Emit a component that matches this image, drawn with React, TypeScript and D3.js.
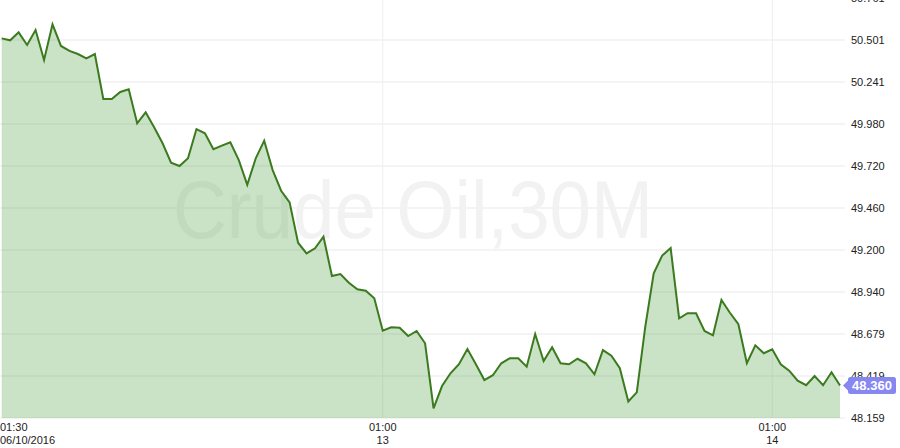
import { useEffect, useRef } from "react";
import * as d3 from "d3";

// 30-minute closes
const closes: number[] = [
  50.511, 50.499, 50.548, 50.47, 50.563, 50.377, 50.598, 50.464, 50.433, 50.414,
  50.387, 50.414, 50.135, 50.135, 50.179, 50.195, 49.985, 50.053, 49.96, 49.861,
  49.741, 49.72, 49.768, 49.949, 49.923, 49.824, 49.846, 49.867, 49.757, 49.603,
  49.768, 49.877, 49.695, 49.567, 49.495, 49.245, 49.179, 49.21, 49.282, 49.039,
  49.051, 48.997, 48.956, 48.948, 48.901, 48.7, 48.721, 48.718, 48.667, 48.698,
  48.622, 48.219, 48.357, 48.436, 48.492, 48.586, 48.492, 48.394, 48.424, 48.498,
  48.529, 48.529, 48.477, 48.679, 48.512, 48.597, 48.498, 48.492, 48.526, 48.498,
  48.43, 48.58, 48.545, 48.467, 48.261, 48.318, 48.723, 49.055, 49.165, 49.212,
  48.777, 48.808, 48.808, 48.698, 48.671, 48.89, 48.811, 48.74, 48.498, 48.609,
  48.56, 48.585, 48.492, 48.452, 48.39, 48.362, 48.419, 48.362, 48.442, 48.36,
];

const yTicks: number[] = [
  48.159, 48.419, 48.679, 48.94, 49.2, 49.46, 49.72, 49.98, 50.241, 50.501, 50.761,
];
const yTickLabels: string[] = [
  "48.159", "48.419", "48.679", "48.940", "49.200", "49.460", "49.720", "49.980", "50.241", "50.501", "50.761",
];

// bar index -> two-line time label
const xTickIndex: number[] = [0, 45, 91];
const xTickTop: string[] = ["01:30", "01:00", "01:00"];
const xTickBottom: string[] = ["06/10/2016", "13", "14"];

const lastLabel = "48.360";
const watermark = "Crude Oil,30M";

export default function App(): JSX.Element {
  const ref = useRef<SVGSVGElement | null>(null);

  useEffect(() => {
    if (!ref.current) return;
    const width = 900;
    const height = 448;
    const left = 1.7;
    const right = 840;
    const bottom = 418;

    const x = d3.scaleLinear().domain([0, closes.length - 1]).range([left, right]);
    const y = d3.scaleLinear().domain([yTicks[0], yTicks[yTicks.length - 1]]).range([bottom, -2]);

    const svg = d3.select(ref.current).attr("width", width).attr("height", height);
    svg.selectAll("*").remove();

    // horizontal grid
    svg
      .append("g")
      .selectAll("line")
      .data(yTicks)
      .join("line")
      .attr("x1", 0)
      .attr("x2", 845)
      .attr("y1", (d) => y(d))
      .attr("y2", (d) => y(d))
      .attr("stroke", "#f1f1f1")
      .attr("stroke-width", 1.5);

    // vertical grid at day labels
    svg
      .append("g")
      .selectAll("line")
      .data(xTickIndex.slice(1))
      .join("line")
      .attr("x1", (d) => x(d))
      .attr("x2", (d) => x(d))
      .attr("y1", 0)
      .attr("y2", bottom)
      .attr("stroke", "#eeeeee")
      .attr("stroke-width", 1);

    svg
      .append("text")
      .attr("x", 173)
      .attr("y", 238)
      .attr("font-family", "'Liberation Sans', Arial, sans-serif")
      .attr("font-size", 81)
      .attr("textLength", 480)
      .attr("lengthAdjust", "spacingAndGlyphs")
      .attr("fill", "#f2f2f2")
      .text(watermark);

    const area = d3
      .area<number>()
      .x((_, i) => x(i))
      .y0(bottom)
      .y1((d) => y(d));
    svg
      .append("path")
      .datum(closes)
      .attr("d", area)
      .attr("fill", "rgb(79,160,62)")
      .attr("fill-opacity", 0.3);

    const line = d3
      .line<number>()
      .x((_, i) => x(i))
      .y((d) => y(d));
    svg
      .append("path")
      .datum(closes)
      .attr("d", line)
      .attr("fill", "none")
      .attr("stroke", "#3b7a1f")
      .attr("stroke-width", 2)
      .attr("stroke-linejoin", "miter");

    // y labels
    svg
      .append("g")
      .selectAll("text")
      .data(yTicks)
      .join("text")
      .attr("x", 851)
      .attr("y", (d) => y(d))
      .attr("dy", "0.35em")
      .attr("font-family", "'Liberation Sans', Arial, sans-serif")
      .attr("font-size", 11)
      .attr("fill", "#222")
      .text((_, i) => yTickLabels[i] ?? "");

    // x labels
    const xl = svg
      .append("g")
      .attr("font-family", "'Liberation Sans', Arial, sans-serif")
      .attr("font-size", 11)
      .attr("fill", "#222");
    xTickIndex.forEach((idx, i) => {
      const anchor = i === 0 ? "start" : "middle";
      const px = i === 0 ? 0 : x(idx);
      xl.append("text").attr("x", px).attr("y", 431).attr("text-anchor", anchor).text(xTickTop[i] ?? "");
      xl.append("text").attr("x", px).attr("y", 443.5).attr("text-anchor", anchor).text(xTickBottom[i] ?? "");
    });

    // last price tag
    const last = closes[closes.length - 1] ?? 0;
    const ly = y(last);
    const g = svg.append("g").attr("transform", `translate(0,${ly})`);
    g.append("path")
      .attr("d", "M843,0 L848,-5 L848,-6 Q848,-8.5 850.5,-8.5 L893.5,-8.5 Q896,-8.5 896,-6 L896,6 Q896,8.5 893.5,8.5 L850.5,8.5 Q848,8.5 848,6 L848,5 Z")
      .attr("fill", "#8787f2");
    g.append("text")
      .attr("x", 872)
      .attr("y", 0)
      .attr("dy", "0.36em")
      .attr("text-anchor", "middle")
      .attr("font-family", "'Liberation Sans', Arial, sans-serif")
      .attr("font-size", 13)
      .attr("font-weight", "bold")
      .attr("fill", "#fff")
      .text(lastLabel);
  }, []);

  return (
    <div style={{ position: "absolute", left: 0, top: 0, width: 900, height: 448, background: "#fff" }}>
      <svg ref={ref} style={{ display: "block" }} />
    </div>
  );
}
